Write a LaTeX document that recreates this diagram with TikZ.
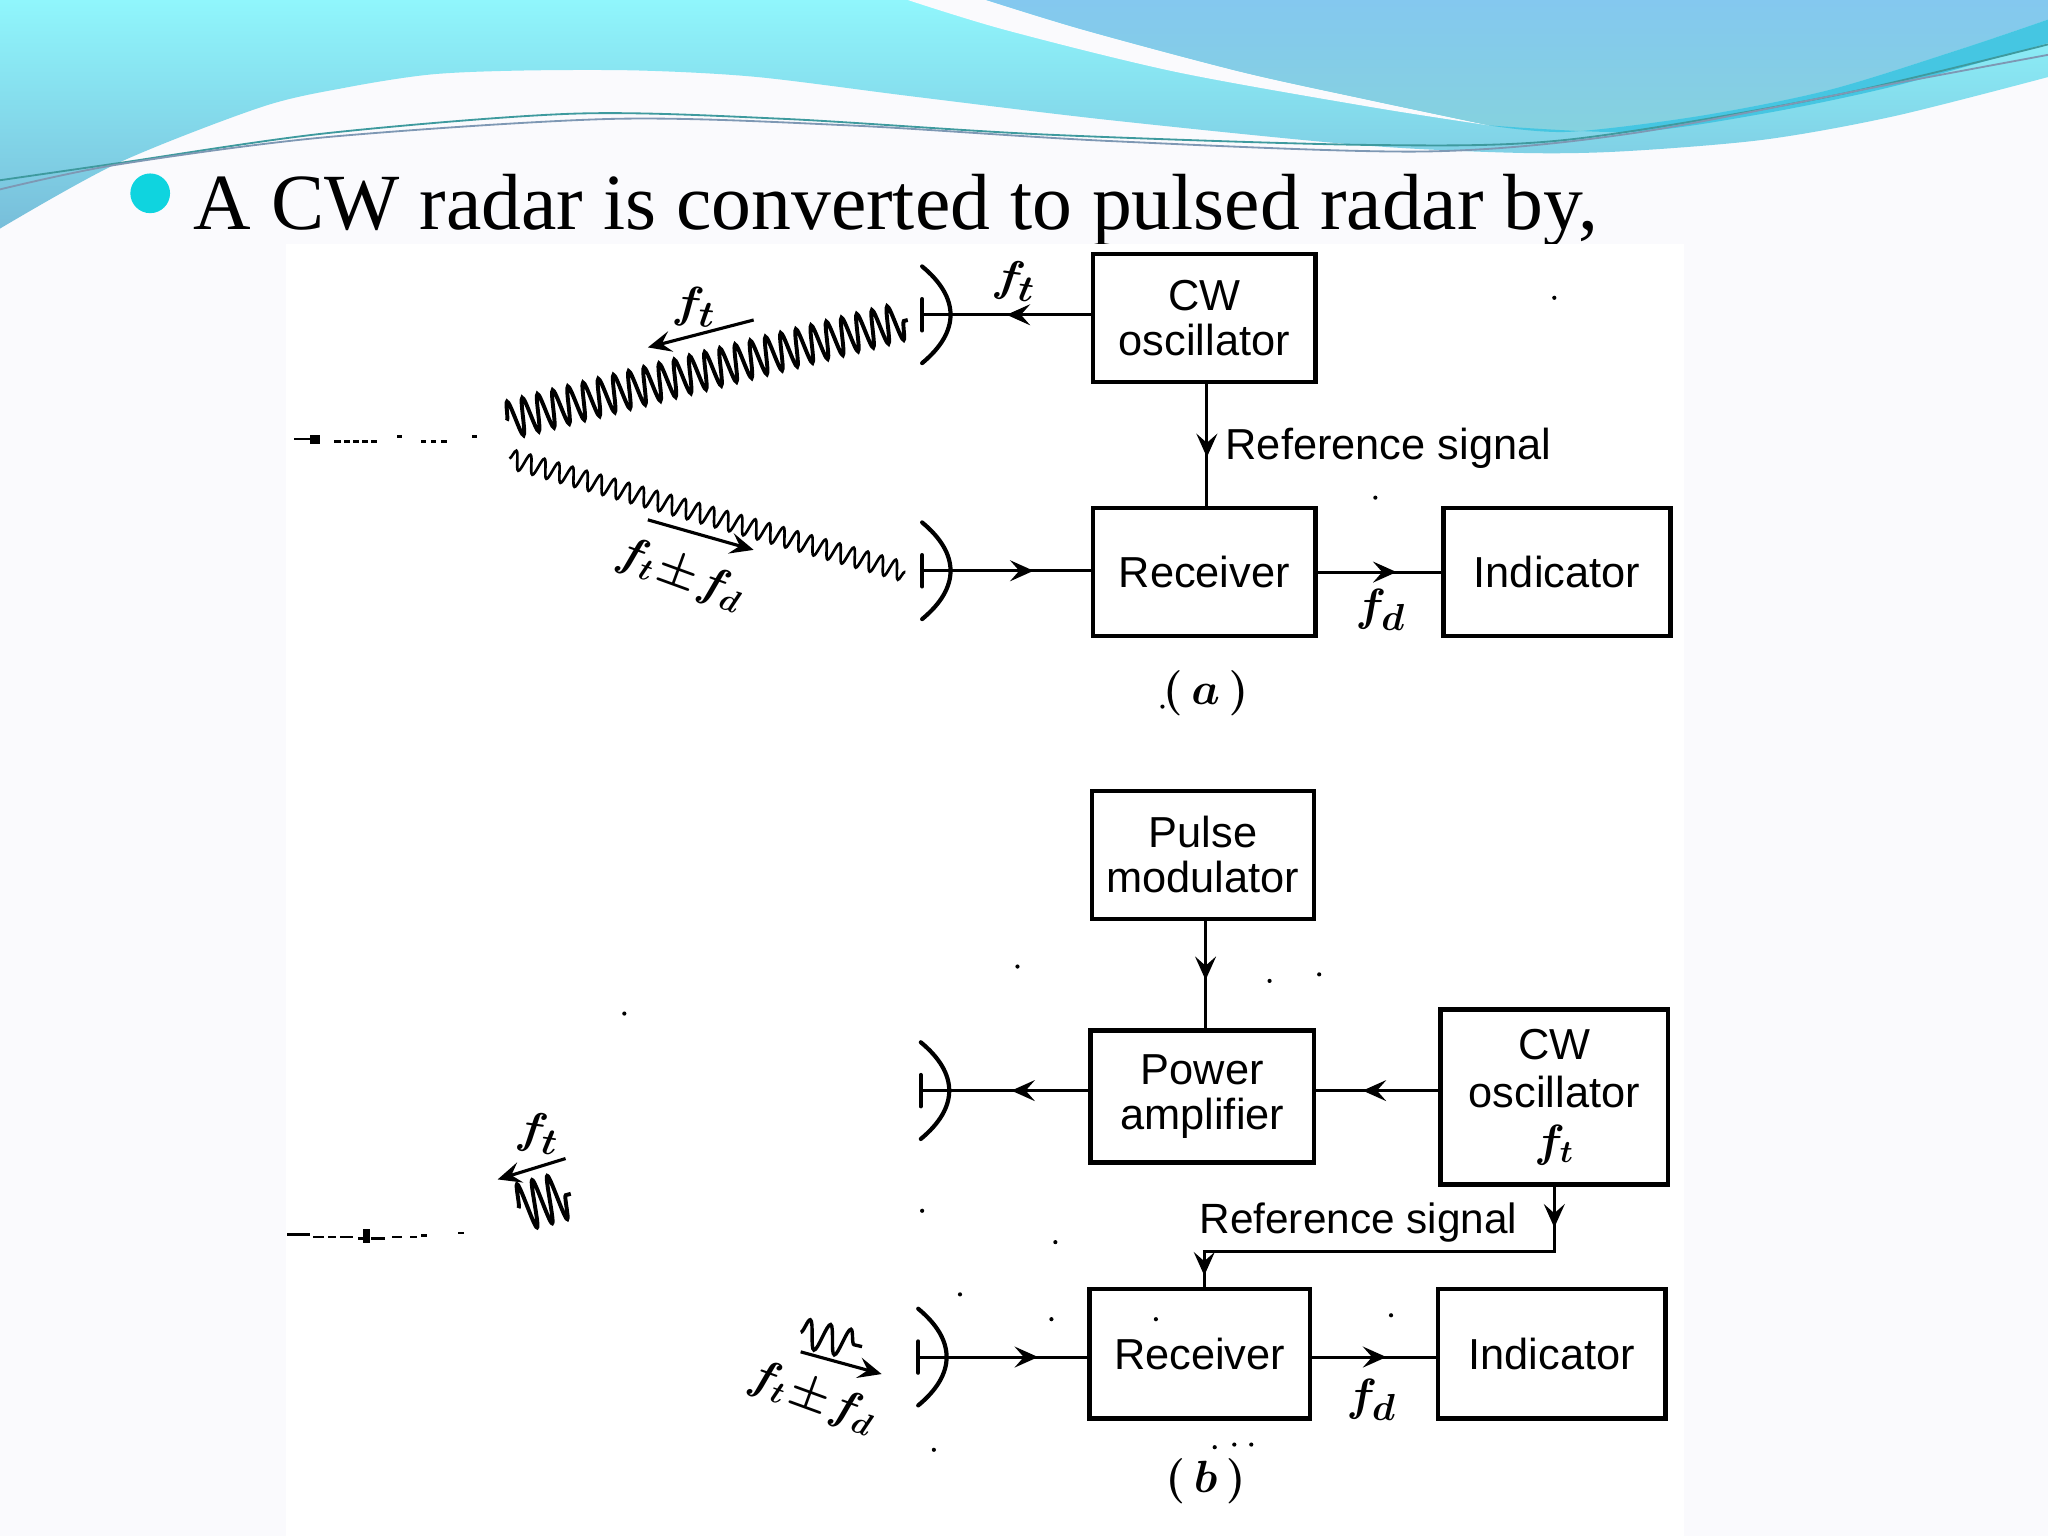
\documentclass[tikz,border=0pt]{standalone}
\usepackage{fontspec}
\setmainfont{Liberation Serif}
\setsansfont{Liberation Sans}
\usetikzlibrary{arrows.meta,decorations.markings,decorations.pathmorphing}

\definecolor{slidebg}{HTML}{FAFAFD}
\definecolor{cyantop}{HTML}{90F6FC}
\definecolor{cyanlow}{HTML}{78BEDA}
\definecolor{bluetop}{HTML}{84C8EF}
\definecolor{bluelow}{HTML}{85D2DE}
\definecolor{ribbon}{HTML}{45C6E2}
\definecolor{bulletcol}{HTML}{0FD4DF}
\definecolor{thintop}{HTML}{3E9A9E}
\definecolor{thinlow}{HTML}{7E98B4}

\tikzset{
  >={Stealth[length=9pt,width=8pt,inset=3.5pt]},
  boxnode/.style={draw,line width=1.7pt,align=center,inner sep=0pt,
    font=\sffamily\fontsize{16.6}{17.2}\selectfont},
  wideA/.style={minimum width=85pt,minimum height=49pt},
  wline/.style={line width=1.2pt},
  midarrow/.style={wline,postaction={decorate},
    decoration={markings,mark=at position #1 with {\arrow{>}}}},
  dishline/.style={line width=1.6pt,line cap=round},
  bigwave/.style={line width=1.5pt,decorate,
    decoration={snake,segment length=6pt,amplitude=7pt}},
  smallwave/.style={line width=1pt,decorate,
    decoration={snake,segment length=5.6pt,amplitude=3.6pt}},
  freq/.style={font=\fontsize{19}{22}\selectfont\boldmath},
  sidetext/.style={font=\sffamily\fontsize{16.6}{20}\selectfont},
  speck/.style={fill=black}
}

\begin{document}
\begin{tikzpicture}[x=.5pt,y=-.5pt]
\useasboundingbox (0,0) rectangle (1568,1176);
\fill[slidebg] (0,0) rectangle (1568,1176);

% header waves
\shade[top color=cyantop,bottom color=cyanlow] (0,0) -- (1568,0) -- (1568,59) -- plot[smooth] coordinates {(1568,59) (1450,89) (1350,107) (1240,116) (1160,117) (1040,111) (850,92) (700,74) (580,59) (490,54) (400,54) (330,57) (265,67) (200,82) (90,125) (0,175)} -- cycle;
\fill[slidebg] (695,0) -- plot[smooth] coordinates {(695,0) (770,23) (900,55) (1050,82) (1140,96)} -- plot[smooth] coordinates {(1140,96) (1050,77) (950,55) (830,23) (755,0)} -- cycle;
\shade[top color=bluetop,bottom color=bluelow] (755,0) -- plot[smooth] coordinates {(755,0) (830,23) (950,55) (1050,77) (1140,96)} -- plot[smooth] coordinates {(1140,96) (1200,101) (1300,89) (1400,69) (1500,38) (1568,15)} -- (1568,0) -- cycle;
\fill[ribbon] plot[smooth] coordinates {(1140,96) (1200,101) (1300,89) (1400,69) (1500,38) (1568,15)} -- (1568,33) -- plot[smooth] coordinates {(1568,33) (1450,66) (1350,87) (1250,101) (1140,96)} -- cycle;
\draw[thintop,line width=.7pt] plot[smooth] coordinates {(0,138) (90,125) (250,102) (440,87) (600,91) (800,103) (1050,111) (1200,107) (1400,74) (1568,34)};
\draw[thinlow,line width=.7pt] plot[smooth] coordinates {(0,145) (90,126) (250,105) (470,91) (650,96) (850,108) (1090,116) (1250,102) (1450,64) (1568,42)};

% title
\fill[bulletcol] (115,148) circle (7.6pt);
\node[anchor=base west,inner sep=0pt,font=\fontsize{30.5}{34}\selectfont] (title) at (148,176) {A CW radar is converted to pulsed radar by,};

\fill[white] (219,187) rectangle (1289,1176);

% part a
\begin{scope}
\node[boxnode,wideA] (oscA) at (922,243.5) {CW\\oscillator};
\node[boxnode,wideA] (recvA) at (922,438) {Receiver};
\node[boxnode,minimum width=87pt,minimum height=49pt] (indA) at (1192,438) {Indicator};
\coordinate (feedA) at (706,241);
\coordinate (feedB) at (706,437);

\draw[midarrow=.5] (oscA.west |- feedA) -- (feedA);
\draw[midarrow=.66] (feedB) -- (recvA.west |- feedB);
\draw[midarrow=.6] ([xshift=1pt]oscA.south) -- ([xshift=1pt]recvA.north);
\draw[midarrow=.64] (recvA.east) -- (indA.west);

\coordinate (waveA) at (388,322);
\coordinate (waveB) at (695,245);
\coordinate (waveC) at (390,351);
\coordinate (waveD) at (693,438);
\draw[bigwave] (waveA) -- (waveB);
\draw[smallwave] (waveC) -- (waveD);

\coordinate (sendT) at (577,245);
\coordinate (sendH) at (496,266);
\coordinate (backT) at (496,398);
\coordinate (backH) at (577,421);
\draw[wline,->] (sendT) -- (sendH);
\draw[wline,->] (backT) -- (backH);

\node[freq,rotate=-5] (ftA) at (532,235) {$f_t$};
\node[freq,rotate=-8] (ftB) at (777,215) {$f_t$};
\node[freq,rotate=-20,font=\fontsize{18}{22}\selectfont\boldmath] (fbA) at (521,440) {$f_t\!\pm\! f_d$};
\node[freq] (fdA) at (1057,467) {$f_d$};
\node[sidetext,anchor=west,inner sep=0pt] (refA) at (938,343) {Reference signal};
\node[freq] (capA) at (923,531) {$(\,a\,)$};
\end{scope}

% part b
\begin{scope}
\node[boxnode,wideA] (pulseB) at (921,654.5) {Pulse\\modulator};
\node[boxnode,minimum width=85.5pt,minimum height=50.5pt] (ampB) at (920.5,839.5) {Power\\amplifier};
\node[boxnode,minimum width=87pt,minimum height=67pt,font=\sffamily\fontsize{16.6}{18.5}\selectfont\boldmath] (oscB) at (1190,840) {CW\\oscillator\\$f_t$};
\node[boxnode,minimum width=84.5pt,minimum height=49.5pt] (recvB) at (918.5,1036.5) {Receiver};
\node[boxnode,minimum width=87pt,minimum height=49.5pt] (indB) at (1188,1036.5) {Indicator};
\coordinate (feedC) at (705,835);
\coordinate (feedD) at (703,1039);
\coordinate (bendR) at (1190,958);
\coordinate (bendL) at (922,958);
\coordinate (refIn) at (922,987);

\draw[midarrow=.55] ([xshift=1pt]pulseB.south) -- ([xshift=1pt]pulseB.south |- ampB.north);
\draw[midarrow=.62] (oscB.west |- feedC) -- (ampB.east |- feedC);
\draw[midarrow=.46] (ampB.west |- feedC) -- (feedC);
\draw[midarrow=.71] (feedD) -- (recvB.west |- feedD);
\draw[midarrow=.6] (recvB.east |- feedD) -- (indB.west |- feedD);
\draw[wline,postaction={decorate},decoration={markings,mark=at position .09 with {\arrow{>}},mark=at position .97 with {\arrow{>}}}] (oscB.south) -- (bendR) -- (bendL) -- (refIn);

\coordinate (waveE) at (397,925);
\coordinate (waveF) at (437,914);
\coordinate (waveG) at (613,1020);
\coordinate (waveH) at (660,1031);
\draw[line width=1.5pt,decorate,decoration={snake,segment length=6pt,amplitude=9pt}] (waveE) -- (waveF);
\draw[line width=1.3pt,decorate,decoration={snake,segment length=8pt,amplitude=5.5pt}] (waveG) -- (waveH);

\coordinate (sendU) at (433,887);
\coordinate (sendV) at (381,903);
\coordinate (backU) at (613,1035);
\coordinate (backV) at (675,1052);
\draw[wline,->] (sendU) -- (sendV);
\draw[wline,->] (backU) -- (backV);

\node[freq,rotate=-8] (ftC) at (412,868) {$f_t$};
\node[freq,rotate=-20,font=\fontsize{18}{22}\selectfont\boldmath] (fbB) at (622,1070) {$f_t\!\pm\! f_d$};
\node[freq] (fdB) at (1050,1072) {$f_d$};
\node[sidetext,anchor=west,inner sep=0pt,font=\sffamily\fontsize{16.2}{20}\selectfont] (refB) at (918,936) {Reference signal};
\node[freq] (capB) at (923,1134) {$(\,b\,)$};
\end{scope}

% dishes
\foreach \dx/\dy in {706/241,706/437,705/835,703/1039}{
  \draw[dishline] (\dx,\dy-37) .. controls (\dx+29,\dy-13) and (\dx+29,\dy+13) .. (\dx,\dy+37);
  \draw[dishline] (\dx,\dy-12) -- (\dx,\dy+12);
}

% target marks and scan specks
\foreach \sx/\sy/\sw in {225/335/20,256/337/5,263/337/5,270/337/5,277/337/5,284/337/5,304/333/4,322/337/4,330/337/4,338/337/4,361/333/4,
  220/944/17,240/946/8,251/946/6,260/946/10,274/947/4,284/947/11,300/946/8,314/946/5,322/945/5,351/943/4}{
  \fill[speck] (\sx,\sy) rectangle (\sx+\sw,\sy+2);
}
\fill[speck] (237,333) rectangle (245,340);
\fill[speck] (278,941) rectangle (283,952);
\foreach \px/\py in {1190/228,1053/381,779/740,972/751,1010/746,478/776,706/927,808/951,735/991,805/1010,885/1010,1065/1007,715/1110,930/1108,945/1106,958/1106,890/541}{
  \fill[speck] (\px,\py) circle (.8pt);
}

\end{tikzpicture}
\end{document}
